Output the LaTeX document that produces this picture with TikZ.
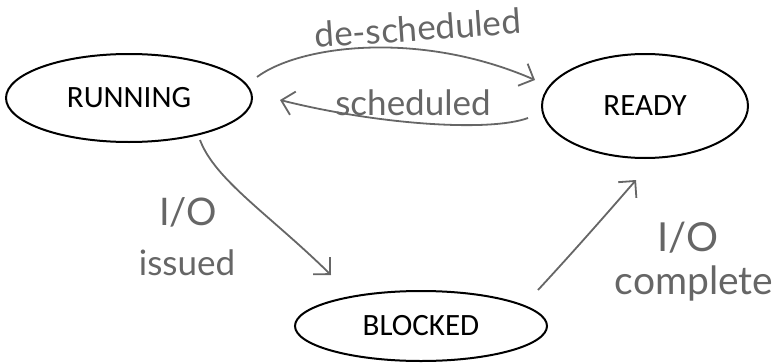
\documentclass[tikz,border=0pt]{standalone}
\usepackage{fontspec}
\setmainfont{Carlito}
\newfontfamily\hand{Lato}
\usetikzlibrary{arrows.meta,shapes.geometric}
\definecolor{pen}{HTML}{666666}
\begin{document}
\begin{tikzpicture}[x=1pt,y=-1pt,
  state/.style={draw, ellipse, line width=2pt, inner sep=0pt, font=\fontsize{31}{34}\selectfont},
  conn/.style={draw=pen, line width=1.8pt, -{Straight Barb[length=12pt,width=24pt,line width=1.8pt]}},
  lbl/.style={text=pen, font=\hand\fontsize{35}{38}\selectfont, inner sep=0pt}]
\useasboundingbox (0,0) rectangle (779,364);
\node[state, minimum width=246pt, minimum height=88pt] (run) at (129,98) {RUNNING};
\node[state, minimum width=206pt, minimum height=104pt] (ready) at (645,106) {READY};
\node[state, minimum width=252pt, minimum height=70pt] (blk) at (421,326) {BLOCKED};
% connector endpoints
\coordinate (dsA) at (257,77);
\coordinate (dsB) at (535,80);
\coordinate (scA) at (528,118);
\coordinate (scB) at (280,100);
\coordinate (ioA) at (200,140);
\coordinate (ioB) at (331,275);
\coordinate (icA) at (538,290);
\coordinate (icB) at (636,180);
\draw[conn] (dsA) .. controls (300,45) and (420,30) .. (dsB);
\draw[conn] (scA) .. controls (490,132) and (380,125) .. (scB);
\draw[conn] (ioA) .. controls (215,180) and (270,215) .. (ioB);
\draw[conn] (icA) .. controls (575,250) and (610,210) .. (icB);
\node[lbl, rotate=4] (l1) at (418,28) {de-scheduled};
\node[lbl] (l2) at (413,103) {scheduled};
\node[lbl, font=\hand\fontsize{38}{40}\selectfont] (l3) at (188,212) {I/O};
\node[lbl] (l4) at (187,263) {issued};
\node[lbl, font=\hand\fontsize{40}{42}\selectfont] (l5) at (688,238) {I/O};
\node[lbl, font=\hand\fontsize{39}{42}\selectfont] (l6) at (694,283) {complete};
\end{tikzpicture}
\end{document}
